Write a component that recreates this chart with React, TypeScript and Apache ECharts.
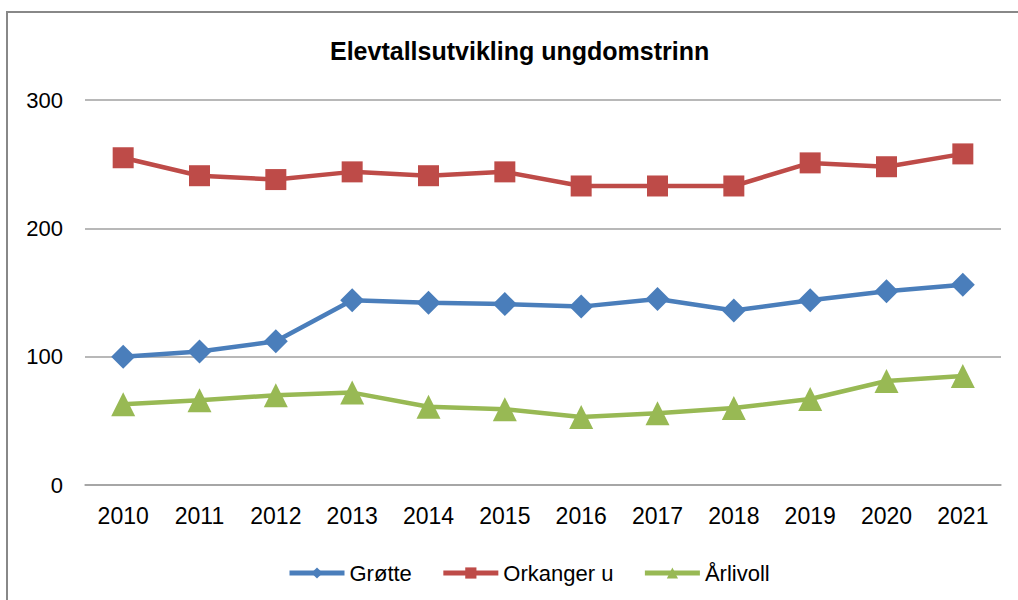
import React, { useEffect, useRef } from "react";
import * as echarts from "echarts";

const years = ["2010", "2011", "2012", "2013", "2014", "2015", "2016", "2017", "2018", "2019", "2020", "2021"];
const grotte = [100, 104, 112, 144, 142, 141, 139, 145, 136, 144, 151, 156];
const orkanger = [255, 241, 238, 244, 241, 244, 233, 233, 233, 251, 248, 258];
const arlivoll = [63, 66, 70, 72, 61, 59, 53, 56, 60, 67, 81, 85];
const seriesNames = ["Grøtte", "Orkanger u", "Årlivoll"];
const colors = ["#4A7EBB", "#BE4B48", "#98B954"];
const symbols = ["diamond", "rect", "triangle"];
const symbolSizes = [24, 21, 24];

const FONT = "'Liberation Sans Narrow', 'Arial Narrow', 'Liberation Sans', sans-serif";

export default function App() {
  const ref = useRef<HTMLDivElement>(null);
  useEffect(() => {
    if (!ref.current) return;
    const chart = echarts.init(ref.current, undefined, { renderer: "svg" });
    const data = [grotte, orkanger, arlivoll];
    chart.setOption({
      animation: false,
      backgroundColor: "#ffffff",
      title: {
        text: "Elevtallsutvikling ungdomstrinn",
        left: 325,
        top: 33,
        textStyle: { fontFamily: FONT, fontSize: 25, fontWeight: "bold", color: "#000" },
      },
      graphic: [
        {
          type: "rect",
          shape: { x: 7, y: 12, width: 1040, height: 620 },
          style: { fill: "none", stroke: "#888888", lineWidth: 2 },
          silent: true,
        },
      ],
      legend: {
        top: 557,
        left: 282,
        itemWidth: 55,
        itemHeight: 14,
        itemGap: 29,
        lineStyle: { width: 5 },
        textStyle: { fontFamily: FONT, fontSize: 22, color: "#000" },
        data: seriesNames,
      },
      grid: { left: 85, right: 17, top: 100, bottom: 115 },
      xAxis: {
        type: "category",
        data: years,
        boundaryGap: true,
        axisTick: { show: false },
        axisLine: { lineStyle: { color: "#A0A0A0", width: 1.5 } },
        axisLabel: { fontFamily: FONT, fontSize: 23, color: "#000", margin: 19 },
      },
      yAxis: {
        type: "value",
        min: 0,
        max: 300,
        interval: 100,
        axisLine: { show: false },
        axisTick: { show: false },
        splitLine: { lineStyle: { color: "#A0A0A0", width: 1.5 } },
        axisLabel: { fontFamily: FONT, fontSize: 22, color: "#000", margin: 22 },
      },
      series: data.map((d, i) => ({
        name: seriesNames[i],
        type: "line",
        data: d,
        symbol: symbols[i],
        symbolSize: symbolSizes[i],
        showAllSymbol: true,
        lineStyle: { color: colors[i], width: 4.5 },
        itemStyle: { color: colors[i] },
        z: 3 - i,
      })),
    });
    return () => chart.dispose();
  }, []);
  return (
    <div
      ref={ref}
      style={{ position: "fixed", left: 0, top: 0, width: 1018, height: 600 }}
    />
  );
}
